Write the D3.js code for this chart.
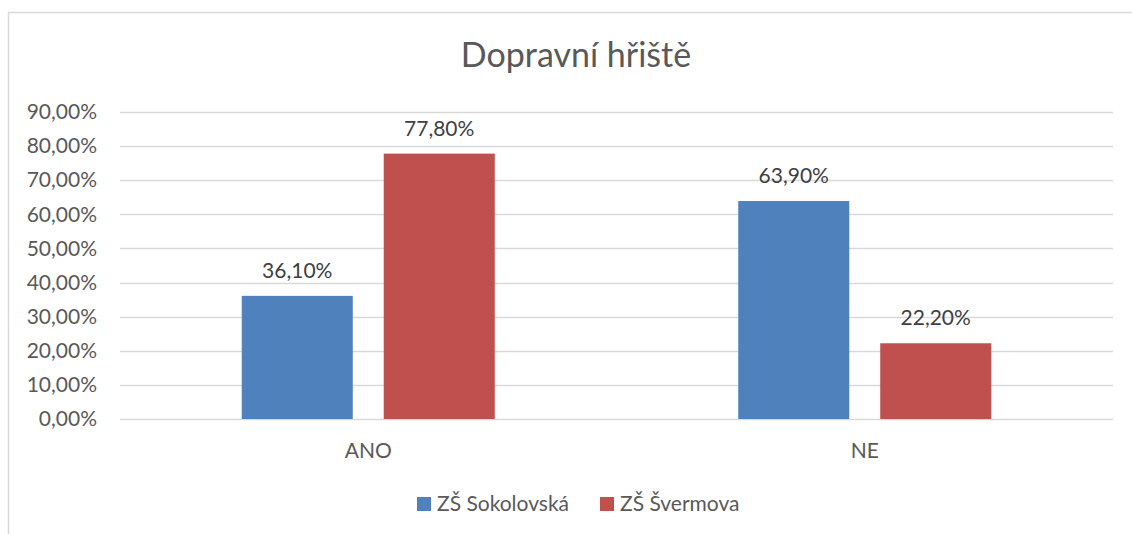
<!DOCTYPE html>
<html><head><meta charset="utf-8">
<script src="https://cdn.jsdelivr.net/npm/d3@7"></script>
<style>body{margin:0;background:#fff}svg{display:block;font-family:Lato,"Open Sans",sans-serif}</style>
</head><body>
<svg id="c" width="1132" height="534"></svg>
<script>
const title = "Dopravní hřiště";
const categories = ["ANO", "NE"];
const series = ["ZŠ Sokolovská", "ZŠ Švermova"];
const sokolovska = [36.1, 63.9];
const svermova = [77.8, 22.2];
const colors = ["#4f81bd", "#c0504d"];
const yTicks = [0, 10, 20, 30, 40, 50, 60, 70, 80, 90];

const values = [sokolovska, svermova];
const svg = d3.select("#c");
const plot = {left: 120, right: 1113, top: 112, bottom: 419};
const fmt = v => d3.format(".2f")(v).replace(".", ",") + "%";

svg.append("rect").attr("x", 8.5).attr("y", 12.5).attr("width", 1300).attr("height", 700)
  .attr("fill", "#fff").attr("stroke", "#d9d9d9").attr("stroke-width", 1.5);

const y = d3.scaleLinear().domain([0, 90]).range([plot.bottom, plot.top]);
const x0 = d3.scaleBand().domain(categories).range([plot.left, plot.right]).padding(0);
const groupW = 253;
const x1 = d3.scaleBand().domain(series).range([-groupW / 2, groupW / 2]).paddingInner(0.218).paddingOuter(0);

// gridlines
svg.append("g").selectAll("line").data(yTicks).join("line")
  .attr("x1", plot.left).attr("x2", plot.right)
  .attr("y1", d => Math.round(y(d)) + 0.5).attr("y2", d => Math.round(y(d)) + 0.5)
  .attr("stroke", "#d9d9d9").attr("stroke-width", 1.3);

// y axis labels
const yAxis = d3.axisLeft(y).tickValues(yTicks).tickFormat(fmt).tickSize(0).tickPadding(0);
const ya = svg.append("g").attr("transform", `translate(97,0)`).call(yAxis);
ya.select(".domain").remove();
ya.selectAll("text").attr("fill", "#595959").style("font-size", "21px").style("font-family", "Lato");

// x axis labels
const xAxis = d3.axisBottom(x0).tickSize(0).tickPadding(0);
const xa = svg.append("g").attr("transform", `translate(0,${plot.bottom + 24})`).call(xAxis);
xa.select(".domain").remove();
xa.selectAll("text").attr("fill", "#595959").style("font-size", "21px").style("font-family", "Lato");

// bars
const groups = svg.append("g").selectAll("g").data(categories).join("g")
  .attr("transform", c => `translate(${x0(c) + x0.bandwidth() / 2},0)`);
groups.each(function(c, ci) {
  const g = d3.select(this);
  series.forEach((s, si) => {
    const v = values[si][ci];
    g.append("rect").attr("x", x1(s)).attr("width", x1.bandwidth())
      .attr("y", y(v)).attr("height", y(0) - y(v)).attr("fill", colors[si]);
    g.append("text").attr("x", x1(s) + x1.bandwidth() / 2).attr("y", y(v) - 18)
      .attr("text-anchor", "middle").attr("fill", "#404040")
      .style("font-size", "21px").text(fmt(v));
  });
});

// title
svg.append("text").attr("x", 576).attr("y", 67).attr("text-anchor", "middle")
  .attr("fill", "#595959").style("font-size", "34px").text(title);

// legend
const legendItems = [{x: 417, tx: 437}, {x: 600, tx: 620}];
series.forEach((s, i) => {
  svg.append("rect").attr("x", legendItems[i].x).attr("y", 497).attr("width", 14).attr("height", 14).attr("fill", colors[i]);
  svg.append("text").attr("x", legendItems[i].tx).attr("y", 511).attr("fill", "#595959")
    .style("font-size", "21px").text(s);
});
</script>
</body></html>
